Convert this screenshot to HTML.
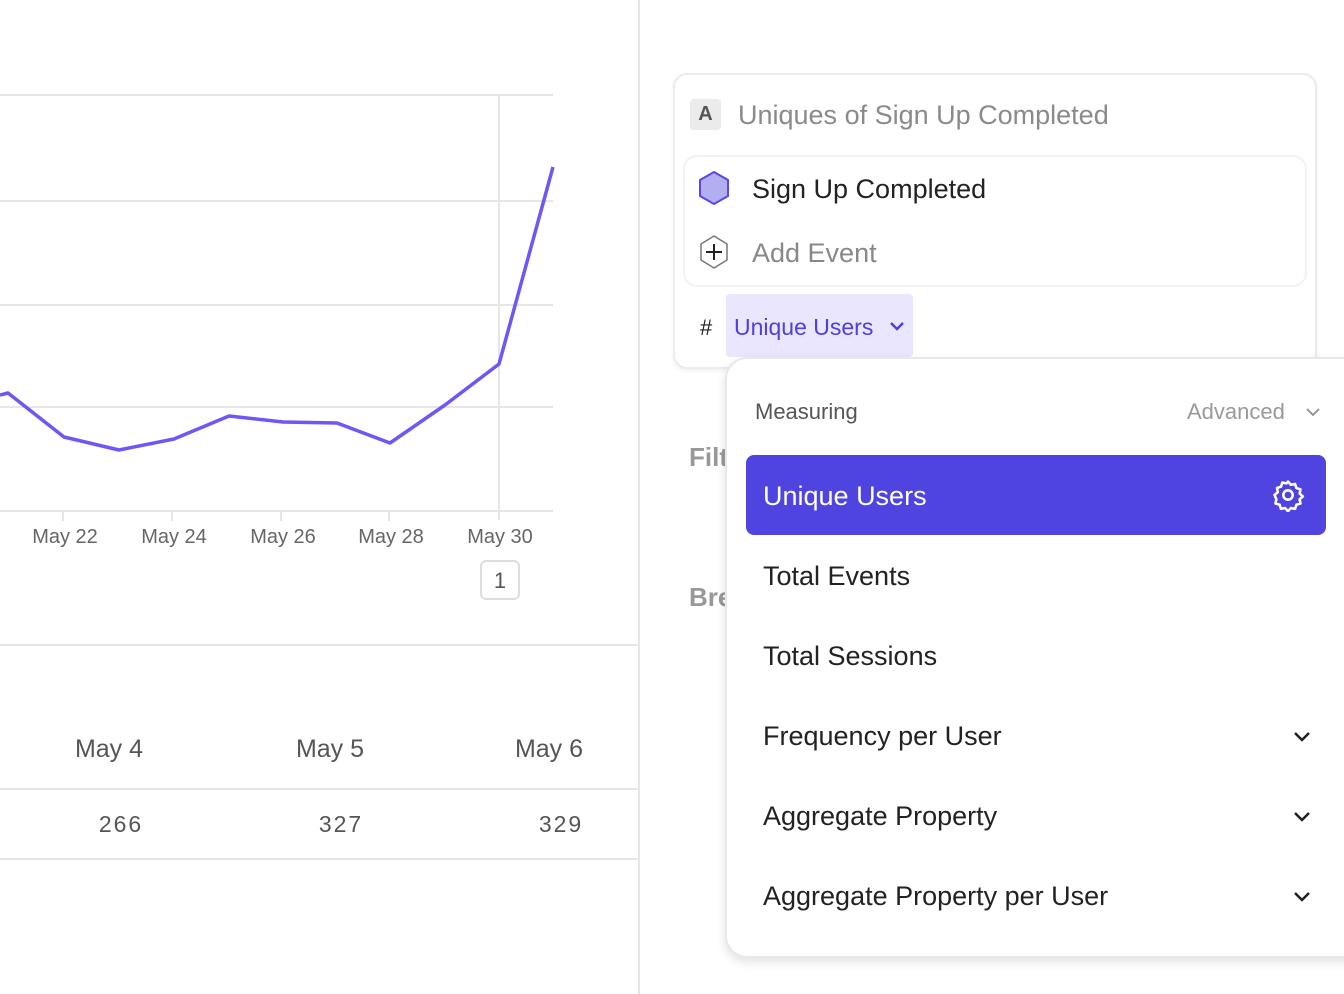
<!DOCTYPE html>
<html><head><style>
body{margin:0;width:1344px;height:994px;background:#fff;font-family:"Liberation Sans",sans-serif;position:relative;overflow:hidden}
.a{position:absolute;white-space:nowrap}
</style></head><body>
<svg class="a" style="left:0;top:0" width="640" height="994">
<g stroke="#e6e6e6" stroke-width="2">
<line x1="0" y1="95" x2="553" y2="95"/><line x1="0" y1="201" x2="553" y2="201"/>
<line x1="0" y1="305" x2="553" y2="305"/><line x1="0" y1="407" x2="553" y2="407"/>
<line x1="0" y1="511" x2="553" y2="511"/>
<line x1="499" y1="95" x2="499" y2="520"/>
<line x1="63" y1="511" x2="63" y2="521"/><line x1="172" y1="511" x2="172" y2="521"/>
<line x1="281" y1="511" x2="281" y2="521"/><line x1="389" y1="511" x2="389" y2="521"/>
<line x1="0" y1="645" x2="639" y2="645"/><line x1="0" y1="789" x2="639" y2="789"/>
<line x1="0" y1="859" x2="639" y2="859"/>
<line x1="639" y1="0" x2="639" y2="994"/>
</g>
<polyline fill="none" stroke="#7156f5" stroke-width="3.5" stroke-linejoin="round" points="0,395 8,393 64,437 119,450 174,439 229,416 283,422 337,423 390,443 445,405 499,364 553,167"/>
<g font-size="20" fill="#666" text-anchor="middle">
<text x="65" y="543">May 22</text><text x="174" y="543">May 24</text><text x="283" y="543">May 26</text><text x="391" y="543">May 28</text><text x="500" y="543">May 30</text>
</g>
<rect x="481" y="561" width="38" height="38" rx="5" fill="#fff" stroke="#ddd" stroke-width="2"/>
<text x="500" y="588" font-size="22" fill="#555" text-anchor="middle">1</text>
<g font-size="25" fill="#555" text-anchor="middle">
<text x="109" y="757">May 4</text><text x="330" y="757">May 5</text><text x="549" y="757">May 6</text>
</g>
<g font-size="23" fill="#555" text-anchor="middle" letter-spacing="2">
<text x="121" y="832">266</text><text x="341" y="832">327</text><text x="561" y="832">329</text>
</g>
</svg>

<div class="a" style="left:673px;top:73px;width:640px;height:292px;border:2px solid #ececec;border-radius:14px;box-shadow:0 2px 4px rgba(0,0,0,.06)"></div>
<div class="a" style="left:690px;top:99px;width:31px;height:31px;background:#ebebeb;border-radius:4px;font-size:20px;font-weight:bold;color:#555;text-align:center;line-height:31px">A</div>
<div class="a" style="left:738px;top:100px;font-size:27px;color:#8a8a8a">Uniques of Sign Up Completed</div>
<div class="a" style="left:683px;top:155px;width:620px;height:128px;border:2px solid #f2f2f2;border-radius:14px"></div>
<svg class="a" style="left:697px;top:170px" width="34" height="100">
<polygon points="17,2 31,10 31,26 17,34 3,26 3,10" fill="#b3adf2" stroke="#5a48e0" stroke-width="2"/>
<polygon points="17,66 30,74 30,90 17,98 4,90 4,74" fill="#fff" stroke="#777" stroke-width="1.5"/>
<line x1="17" y1="74" x2="17" y2="90" stroke="#222" stroke-width="2"/><line x1="9" y1="82" x2="25" y2="82" stroke="#222" stroke-width="2"/>
</svg>
<div class="a" style="left:752px;top:174px;font-size:27px;color:#222">Sign Up Completed</div>
<div class="a" style="left:752px;top:238px;font-size:27px;color:#888">Add Event</div>
<div class="a" style="left:700px;top:315px;font-size:22px;color:#222">#</div>
<div class="a" style="left:726px;top:294px;width:187px;height:63px;background:#e9e6fd;border-radius:4px"></div>
<div class="a" style="left:734px;top:314px;font-size:23px;color:#4f3fdb">Unique Users</div>
<svg class="a" style="left:888px;top:319px" width="18" height="16"><polyline points="3,4 9,10 15,4" fill="none" stroke="#4f3fdb" stroke-width="2.5"/></svg>

<div class="a" style="left:689px;top:442px;font-size:26px;font-weight:bold;color:#999">Filt</div>
<div class="a" style="left:689px;top:582px;font-size:26px;font-weight:bold;color:#999">Bre</div>

<div class="a" style="left:725px;top:357px;width:640px;height:597px;background:#fff;border:2px solid #e8e8e8;border-radius:22px;box-shadow:0 4px 10px rgba(0,0,0,.12)"></div>
<div class="a" style="left:755px;top:399px;font-size:22px;color:#555">Measuring</div>
<div class="a" style="left:1187px;top:399px;font-size:22px;color:#999">Advanced</div>
<svg class="a" style="left:1304px;top:404px" width="18" height="16"><polyline points="3,5 9,11 15,5" fill="none" stroke="#999" stroke-width="2"/></svg>
<div class="a" style="left:746px;top:455px;width:580px;height:80px;background:#4f44e0;border-radius:8px"></div>
<div class="a" style="left:763px;top:481px;font-size:27px;color:#fff">Unique Users</div>
<svg class="a" style="left:1271px;top:478px" width="34" height="34" viewBox="0 0 24 24"><circle cx="12" cy="12" r="3.3" fill="none" stroke="#fff" stroke-width="1.8"/><path d="M12 2.5l2 2.3 3-.6.9 2.9 2.9.9-.6 3 2.3 2-2.3 2 .6 3-2.9.9-.9 2.9-3-.6-2 2.3-2-2.3-3 .6-.9-2.9-2.9-.9.6-3L2.5 12l2.3-2-.6-3 2.9-.9.9-2.9 3 .6z" fill="none" stroke="#fff" stroke-width="1.8" stroke-linejoin="round"/></svg>
<div class="a" style="left:763px;top:561px;font-size:27px;color:#222">Total Events</div>
<div class="a" style="left:763px;top:641px;font-size:27px;color:#222">Total Sessions</div>
<div class="a" style="left:763px;top:721px;font-size:27px;color:#222">Frequency per User</div>
<div class="a" style="left:763px;top:801px;font-size:27px;color:#222">Aggregate Property</div>
<div class="a" style="left:763px;top:881px;font-size:27px;color:#222">Aggregate Property per User</div>
<svg class="a" style="left:1292px;top:728px" width="20" height="180"><g fill="none" stroke="#222" stroke-width="2.5"><polyline points="3,5 10,12 17,5"/><polyline points="3,85 10,92 17,85"/><polyline points="3,165 10,172 17,165"/></g></svg>
</body></html>
